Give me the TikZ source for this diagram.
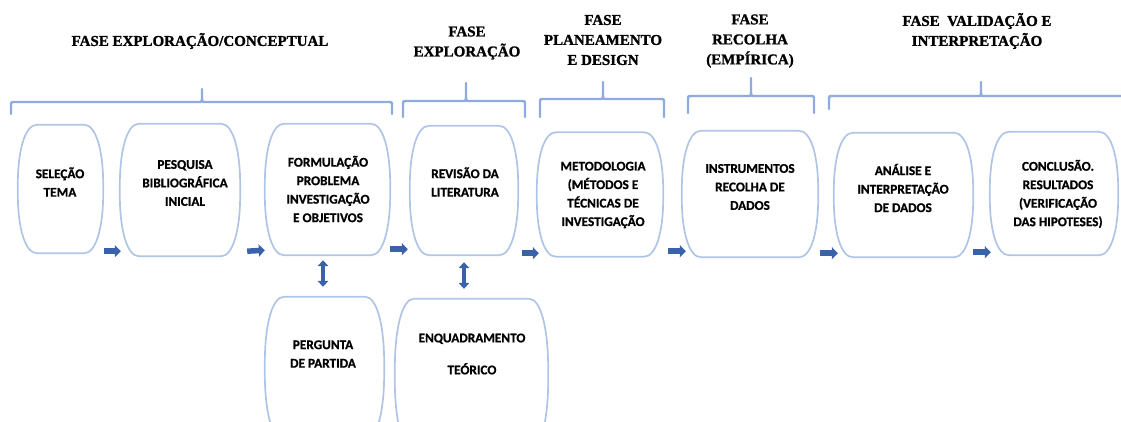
\documentclass[tikz,border=0pt]{standalone}
\usepackage{fontspec}
\setmainfont{Liberation Serif}
\newfontfamily\titlefont{Liberation Serif Bold}[FakeBold=1.3]
\newfontfamily\boxfont{Carlito Bold}[FakeBold=0.9]
\usetikzlibrary{calc,arrows.meta}
\definecolor{boxc}{RGB}{176,196,230}
\definecolor{bracec}{RGB}{143,170,220}
\definecolor{arrc}{RGB}{58,98,170}
\tikzset{
 boxline/.style={draw=boxc, line width=1.7pt, line join=round},
 pillarea/.style={draw=none, inner sep=0pt, rectangle},
 boxtext/.style={font=\boxfont\fontsize{13.3}{18.5}\selectfont, align=center, text=black, inner sep=0pt},
 phasetitle/.style={font=\titlefont\fontsize{15}{20}\selectfont, align=center, inner sep=0pt},
 bracel/.style={draw=bracec, line width=2.4pt, line cap=round, line join=round},
 blockarr/.style={draw=arrc, line width=5.5pt, -{Triangle[width=12pt,length=6pt]}},
 dblarr/.style={draw=arrc, line width=3.8pt, {Triangle[width=10.5pt,length=6pt]}-{Triangle[width=10.5pt,length=6pt]}},
}
\newcommand\pill[5]{%
  \node[pillarea, minimum width=#4pt, minimum height=#5pt] (#1) at (#2,#3) {};
  \pgfmathsetmacro\pilla{19}%
  \pgfmathsetmacro\pillb{#5*0.47}%
  \draw[boxline] ($(#1.north west)+(\pilla,0)$) -- ($(#1.north east)+(-\pilla,0)$)
    .. controls +(0.6*\pilla,0) and +(0,-0.6*\pillb) .. ($(#1.north east)+(0,\pillb)$)
    -- ($(#1.south east)+(0,-\pillb)$)
    .. controls +(0,0.6*\pillb) and +(0.6*\pilla,0) .. ($(#1.south east)+(-\pilla,0)$)
    -- ($(#1.south west)+(\pilla,0)$)
    .. controls +(-0.6*\pilla,0) and +(0,0.6*\pillb) .. ($(#1.south west)+(0,-\pillb)$)
    -- ($(#1.north west)+(0,\pillb)$)
    .. controls +(0,-0.6*\pillb) and +(-0.6*\pilla,0) .. ($(#1.north west)+(\pilla,0)$) -- cycle;
}
\newcommand\phasebrace[6]{%
  \draw[bracel] (#1,#6) -- (#1,#4+4) .. controls (#1,#4) .. (#1+4,#4) -- (#3-4,#4) .. controls (#3,#4) .. (#3,#4-4) -- (#3,#5);
  \draw[bracel] (#2,#6) -- (#2,#4+4) .. controls (#2,#4) .. (#2-4,#4) -- (#3+4,#4) .. controls (#3,#4) .. (#3,#4-4);
}
\begin{document}
\begin{tikzpicture}[x=1pt,y=-1pt]
\useasboundingbox (0,0) rectangle (1121,421);
\clip (0,0) rectangle (1121,421);

% phase titles
\node[phasetitle] (p1) at (200,41) {FASE EXPLORAÇÃO/CONCEPTUAL};
\node[phasetitle] (p2) at (467,43) {FASE\\EXPLORAÇÃO};
\node[phasetitle] (p3) at (603,40) {FASE\\PLANEAMENTO\\E DESIGN};
\node[phasetitle] (p4) at (750,41) {FASE\\RECOLHA\\(EMPÍRICA)};
\node[phasetitle] (p5) at (977,31) {FASE\ \ VALIDAÇÃO E\\INTERPRETAÇÃO};

% braces
\phasebrace{11}{392}{202}{102}{89}{114}
\phasebrace{403}{525}{466}{101}{83}{117}
\phasebrace{540}{664}{603}{99}{82}{117}
\phasebrace{688}{814}{751}{96}{78}{113}
\phasebrace{829}{1135}{981}{96}{82}{109}

% boxes
\pill{b1}{60.5}{189}{85}{128}
\pill{b2}{180}{190}{120}{132}
\pill{b3}{327.5}{189.5}{125}{131}
\pill{b4}{464}{190.5}{108}{129}
\pill{b5}{600}{194.5}{126}{124}
\pill{b6}{750}{194}{136}{126}
\pill{b7}{903.5}{195}{139}{124}
\pill{b8}{1054}{193.5}{128}{123}
\pill{b9}{324.5}{368.5}{119}{143}
\pill{b10}{471.5}{374.5}{153}{151}

% box texts
\node[boxtext] (t1) at (60,182) {SELEÇÃO\\TEMA};
\node[boxtext] (t2) at (185,183) {PESQUISA\\BIBLIOGRÁFICA\\INICIAL};
\node[boxtext] (t3) at (328,189) {FORMULAÇÃO\\PROBLEMA\\INVESTIGAÇÃO\\E OBJETIVOS};
\node[boxtext] (t4) at (465,182) {REVISÃO DA\\LITERATURA};
\node[boxtext] (t5) at (603,195) {METODOLOGIA\\(MÉTODOS E\\TÉCNICAS DE\\INVESTIGAÇÃO};
\node[boxtext] (t6) at (750,187) {INSTRUMENTOS\\RECOLHA DE\\DADOS};
\node[boxtext] (t7) at (903,188) {ANÁLISE E\\INTERPRETAÇÃO\\DE DADOS};
\node[boxtext] (t8) at (1058,194) {CONCLUSÃO.\\RESULTADOS\\(VERIFICAÇÃO\\DAS HIPOTESES)};
\node[boxtext] (t9) at (323,354) {PERGUNTA\\DE PARTIDA};
\node[boxtext] (t10) at (472,354) {ENQUADRAMENTO\\[13.5pt]TEÓRICO};

% horizontal block arrows
\draw[blockarr] ($(b1.south east)+(1,-2)$) -- ($(b2.south west)+(1,-5)$);
\draw[blockarr] ($(b2.south east)+(7,-5)$) -- ($(b3.south west)+(0,-5)$);
\draw[blockarr] ($(b3.south east)+(0,-6)$) -- ($(b4.south west)+(-2,-6)$);
\draw[blockarr] ($(b4.south east)+(4,-2)$) -- ($(b5.south west)+(2,-3.5)$);
\draw[blockarr] ($(b5.south east)+(5,-5.5)$) -- ($(b6.south west)+(4,-6)$);
\draw[blockarr] ($(b6.south east)+(2,-4)$) -- ($(b7.south west)+(4,-4)$);
\draw[blockarr] ($(b7.south east)+(0,-5)$) -- ($(b8.south west)+(1,-3)$);

% vertical double arrows
\draw[dblarr] ($(b3.south)+(-4.5,5)$) -- ($(b9.north)+(-1.5,-10)$);
\draw[dblarr] ($(b4.south)+(0,7)$) -- ($(b10.north)+(-7.5,-10)$);
\end{tikzpicture}
\end{document}
